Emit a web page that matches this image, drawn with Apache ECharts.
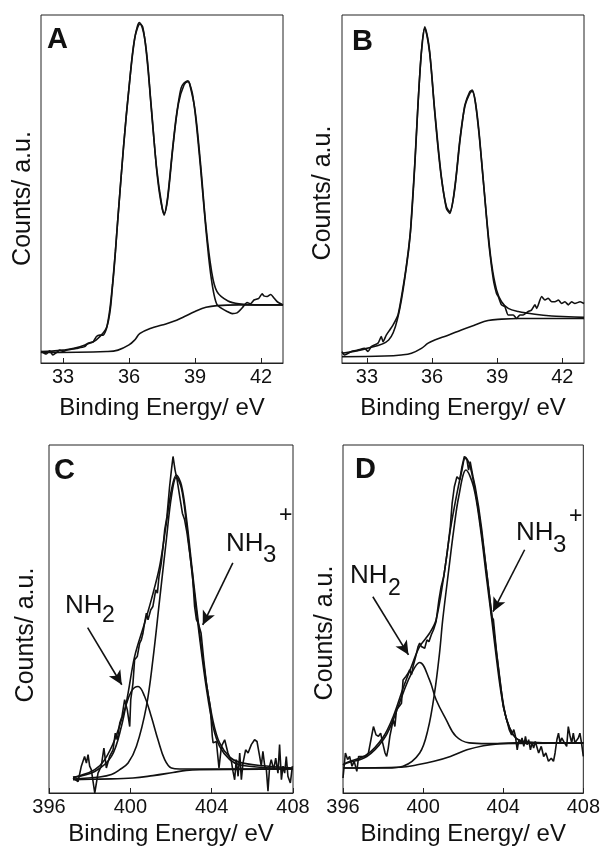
<!DOCTYPE html>
<html>
<head>
<meta charset="utf-8">
<script src="https://cdn.jsdelivr.net/npm/echarts@6/dist/echarts.min.js"></script>
<style>
html,body{margin:0;padding:0;background:#fff;}
#chart{width:603px;height:855px;}
</style>
</head>
<body>
<div id="chart"></div>
<script>
// ---------- Panel A ----------
const aRawX = [32.00,32.24,32.39,32.54,32.70,32.85,33.00,33.15,33.61,33.99,34.14,34.37,34.52,34.67,34.83,34.98,35.13,35.25,35.38,35.50,35.63,35.75,35.88,36.00,36.13,36.26,36.37,36.47,36.62,36.74,36.87,37.00,37.13,37.25,37.38,37.51,37.60,37.75,37.87,37.99,38.12,38.25,38.37,38.49,38.68,38.75,38.88,39.00,39.12,39.24,39.37,39.50,39.62,39.74,39.87,40.00,40.23,40.46,40.69,40.91,41.14,41.37,41.52,41.68,41.90,42.05,42.13,42.28,42.44,42.60,42.74,43.00];
const aRawY = [3.3,2.6,3.5,2.3,3.0,3.7,3.3,3.7,4.2,4.7,5.7,6.1,7.6,8.0,8.0,10.0,15.5,22.5,32.0,42.0,52.5,62.0,71.5,79.2,87.0,93.3,96.5,97.8,96.6,91.9,84.0,74.1,64.5,55.9,49.0,44.4,42.5,47.3,54.5,62.2,69.5,75.1,79.0,80.4,81.1,80.4,77.5,72.2,65.0,56.9,47.5,38.2,30.5,24.3,19.5,16.8,15.6,14.8,14.2,14.4,15.8,17.4,17.0,18.1,18.6,19.9,19.3,19.1,19.7,18.6,17.6,16.7];
const aFitX = [32.00,32.50,33.00,33.50,34.00,34.50,35.00,35.25,35.50,35.75,36.00,36.25,36.50,36.75,37.00,37.25,37.50,37.60,37.75,38.00,38.25,38.50,38.68,38.75,39.00,39.25,39.50,39.75,40.00,40.50,41.00,42.00,43.00];
const aFitY = [3.3,3.4,3.7,4.2,5.2,6.6,10.5,22.0,42.0,62.0,79.0,93.0,97.4,91.8,74.6,56.4,44.9,43.0,46.8,62.2,74.6,79.9,80.8,80.3,72.7,57.4,39.2,26.5,20.5,17.8,17.0,16.7,16.7];
const aBgX = [32.00,35.00,35.50,36.00,36.26,36.50,37.00,37.50,38.00,38.50,39.00,39.50,40.00,41.00,43.00];
const aBgY = [3.0,3.3,3.7,5.2,6.6,8.5,10.0,10.9,11.9,13.3,14.8,16.0,16.5,16.7,16.7];

// ---------- Panel B ----------
const bRawX = [31.85,31.97,32.28,32.58,32.89,33.05,33.20,33.51,33.66,33.74,33.89,34.05,34.20,34.43,34.63,34.82,35.00,35.10,35.20,35.33,35.46,35.56,35.66,35.78,35.89,36.00,36.12,36.27,36.43,36.66,36.82,36.93,37.05,37.17,37.28,37.40,37.51,37.74,37.85,37.95,38.05,38.17,38.28,38.40,38.51,38.62,38.74,38.85,38.97,39.05,39.20,39.35,39.51,39.74,39.89,40.05,40.20,40.43,40.58,40.74,40.82,41.05,41.20,41.35,41.51,41.66,41.82,41.97,42.12,42.28,42.43,42.58,42.82,43.00];
const bRawY = [3.3,2.3,3.3,3.7,4.2,3.3,4.7,5.7,7.6,6.1,8.0,9.5,10.9,13.8,20.5,28.2,37.7,47.0,56.9,72.0,85.6,92.5,96.6,94.0,89.5,81.5,72.2,62.0,53.1,44.4,43.0,45.5,50.2,57.0,63.6,69.5,74.1,78.0,78.4,76.5,72.2,65.5,57.9,49.5,41.6,34.0,27.7,23.0,20.0,19.1,16.7,16.2,13.8,13.8,12.8,13.8,13.8,14.8,15.2,16.7,15.7,19.1,18.1,18.6,17.6,17.6,18.1,17.1,17.6,16.7,17.6,17.1,17.6,17.1];
const bFitX = [31.85,33.00,34.00,34.43,34.82,35.00,35.20,35.46,35.66,35.89,36.12,36.43,36.66,36.82,37.05,37.28,37.51,37.74,37.85,38.05,38.28,38.51,38.74,38.97,39.20,39.51,39.97,40.74,41.51,42.28,43.00];
const bFitY = [2.8,4.2,6.6,13.3,27.7,37.3,56.4,85.2,96.2,89.0,72.7,53.5,44.9,43.5,50.7,64.1,73.7,77.5,78.0,72.7,58.3,42.0,28.6,21.0,17.6,15.7,14.8,14.0,13.5,13.3,13.1];
const bBgX = [31.85,33.82,34.58,35.05,35.51,35.82,36.12,36.74,37.35,37.97,38.58,39.20,39.97,43.00];
const bBgY = [1.8,2.0,2.3,2.8,4.2,5.7,6.6,8.0,9.5,10.9,12.2,12.6,12.8,12.8];

// ---------- Panel C ----------
const cRawX = [397.18,397.43,397.59,397.75,397.84,397.92,398.00,398.08,398.25,398.41,398.57,398.70,398.82,398.98,399.15,399.26,399.36,399.48,399.59,399.72,399.85,399.97,400.02,400.13,400.21,400.34,400.46,400.54,400.62,400.70,400.79,400.87,401.00,401.11,401.25,401.33,401.41,401.52,401.61,401.69,401.80,401.93,402.02,402.10,402.20,402.30,402.43,402.56,402.67,402.79,402.92,403.05,403.16,403.25,403.34,403.48,403.61,403.74,403.84,403.93,404.03,404.07,404.23,404.36,404.48,404.64,404.80,404.97,405.05,405.13,405.21,405.30,405.38,405.46,405.54,405.67,405.79,405.95,406.11,406.23,406.36,406.44,406.52,406.61,406.69,406.77,406.85,406.93,407.05,407.15,407.26,407.34,407.43,407.51,407.59,407.67,407.75,407.87,407.97];
const cRawY = [4.3,3.3,7.7,10.5,8.6,11.0,7.7,6.7,0.0,5.7,7.7,12.9,7.2,10.5,12.4,17.2,15.3,20.1,22.0,26.8,23.9,19.1,26.8,31.6,38.3,39.2,43.1,44.0,45.9,48.8,51.7,49.8,52.6,53.6,58.4,57.4,62.2,66.0,70.8,75.6,79.4,88.0,92.8,96.7,92.8,90.0,85.2,80.4,78.5,74.6,68.9,63.2,53.6,49.8,48.8,45.9,38.3,31.6,27.8,24.9,16.3,14.4,14.8,7.2,13.4,15.3,11.5,9.1,6.2,3.8,9.6,4.8,11.5,3.8,8.6,12.4,11.5,13.9,15.3,14.8,10.5,7.7,12.0,7.7,6.7,0.5,7.7,9.6,6.7,10.0,5.7,13.9,3.8,7.7,5.7,10.5,4.8,2.9,7.7];
const cFitX = [397.18,398.25,399.07,399.56,399.89,400.21,400.70,401.03,401.44,401.77,402.02,402.26,402.51,402.75,403.08,403.41,403.74,404.07,404.39,404.89,405.38,406.36,408.00];
const cFitY = [4.5,6.2,10.5,19.1,28.7,39.2,48.8,55.5,65.1,77.5,87.1,91.4,88.5,79.4,62.2,45.9,31.6,20.6,14.4,10.3,8.8,7.9,7.2];
const cNh2X = [397.18,397.43,398.25,398.74,399.23,399.72,400.05,400.38,400.70,401.03,401.36,401.69,402.02,402.43,408.00];
const cNh2Y = [4.5,4.8,6.7,9.6,15.3,23.9,29.2,30.6,27.8,22.0,15.3,9.6,7.2,6.9,6.9];
const cNh3X = [397.18,398.49,399.07,399.48,399.89,400.30,400.79,401.11,401.44,401.77,402.02,402.26,402.51,402.75,403.08,403.41,403.74,404.07,404.39,404.89,405.38,406.36,408.00];
const cNh3Y = [4.0,4.6,5.3,6.7,8.6,13.4,24.9,38.3,55.5,72.7,85.2,90.7,87.6,78.0,60.8,44.5,30.1,19.1,13.4,9.6,8.1,7.4,7.0];
const cBgX = [397.18,398.49,400.13,401.11,402.10,402.75,403.41,408.00];
const cBgY = [3.8,4.0,4.3,5.0,5.9,6.5,6.7,6.9];

// ---------- Panel D ----------
const dRawX = [396.00,396.12,396.23,396.33,396.45,396.56,396.69,396.78,396.94,397.11,397.27,397.52,397.65,397.77,397.88,397.98,398.10,398.18,398.26,398.34,398.51,398.59,398.67,398.81,398.92,399.00,399.14,399.25,399.33,399.42,399.50,399.63,399.75,399.83,399.91,399.99,400.08,400.19,400.29,400.41,400.52,400.65,400.79,400.90,401.03,401.20,401.36,401.45,401.56,401.69,401.83,401.94,402.06,402.19,402.27,402.35,402.49,402.60,402.77,402.93,403.10,403.26,403.43,403.51,403.67,403.84,404.00,404.17,404.30,404.42,404.53,404.61,404.70,404.78,404.86,404.94,405.03,405.11,405.19,405.27,405.36,405.44,405.52,405.60,405.77,405.90,406.02,406.13,406.26,406.40,406.51,406.59,406.68,406.76,406.84,406.92,407.06,407.17,407.25,407.34,407.42,407.50,407.58,407.75,407.83,407.91,408.00];
const dRawY = [4.3,11.5,9.6,10.5,7.7,9.1,6.2,10.5,10.5,10.5,11.5,19.1,16.7,16.3,17.2,14.4,11.5,10.5,12.9,16.3,21.1,19.1,23.9,24.9,25.8,32.5,33.5,34.4,35.4,34.0,36.4,39.2,42.1,43.1,42.1,42.6,41.6,44.0,43.5,45.5,46.9,49.3,55.5,59.3,62.2,68.9,76.6,83.3,88.0,90.9,90.0,93.8,96.7,95.7,92.8,95.2,90.9,88.0,82.3,75.6,67.0,59.3,50.7,49.8,40.2,32.5,24.9,21.1,18.2,16.7,18.2,16.3,12.4,15.3,14.4,15.8,13.4,16.3,13.9,15.3,12.4,14.4,12.9,14.8,11.5,13.4,10.5,11.5,9.1,10.0,9.1,11.5,15.3,17.2,14.4,15.8,14.4,13.4,19.1,16.3,14.4,17.2,14.4,15.8,17.2,14.4,10.5];
const dFitX = [396.00,396.20,397.19,398.01,398.51,399.00,399.42,399.83,400.32,400.65,401.03,401.36,401.69,401.94,402.11,402.35,402.68,403.01,403.34,403.67,403.92,404.17,404.50,404.83,405.49,408.00];
const dFitY = [8.1,8.8,11.0,16.1,22.0,30.1,36.4,42.1,45.9,49.8,62.2,75.6,86.1,92.8,96.5,93.8,84.2,70.8,55.5,40.2,28.7,21.1,16.7,15.1,14.5,14.4];
const dNh2X = [396.00,396.20,397.19,398.01,398.51,399.00,399.42,399.83,400.32,400.65,401.15,401.64,402.30,403.18,408.00];
const dNh2Y = [8.1,8.6,10.5,15.3,21.1,28.7,34.4,37.5,32.5,26.8,21.1,16.3,14.4,14.2,14.4];
const dNh3X = [396.00,398.18,399.00,399.83,400.24,400.57,400.82,400.98,401.28,401.53,401.78,402.14,402.52,402.85,403.18,403.43,403.67,403.92,404.17,404.50,404.83,405.49,408.00];
const dNh3Y = [7.2,7.2,7.7,11.5,18.2,28.7,40.2,49.8,64.1,75.6,85.2,92.8,88.0,76.6,61.2,49.8,38.3,27.8,21.1,16.7,15.1,14.5,14.4];
const dBgX = [396.00,398.89,399.71,400.54,401.36,402.19,403.01,403.84,404.66,408.00];
const dBgY = [7.2,7.4,8.1,9.1,10.5,12.4,13.6,14.2,14.4,14.4];

// ---------- Axes / text ----------
const ticksSn = [33, 36, 39, 42];
const ticksN = [396, 400, 404, 408];
const xName = 'Binding Energy/ eV';
const yName = 'Counts/ a.u.';
const panelLetters = ['A', 'B', 'C', 'D'];
// arrows [fromX, fromY, toX, toY] in data units
const cArrowNh2 = [397.90, 47.5, 399.58, 31.1];
const cArrowNh3 = [405.04, 66.1, 403.56, 48.3];
const dArrowNh2 = [397.49, 56.4, 399.27, 39.7];
const dArrowNh3 = [405.07, 69.9, 403.49, 52.1];

const FONT = '"Liberation Sans", Arial, Helvetica, sans-serif';
const INK = '#111';

function zip(xs, ys) {
  const n = Math.min(xs.length, ys.length);
  const out = [];
  for (let i = 0; i < n; i++) out.push([xs[i], ys[i]]);
  return out;
}

const grids = [
  {left: 41, top: 15, width: 242, height: 348},
  {left: 342, top: 15, width: 242, height: 348},
  {left: 49, top: 445, width: 244, height: 348},
  {left: 343, top: 445, width: 242, height: 348}
].map(g => Object.assign({show: true, borderColor: '#222', borderWidth: 1, containLabel: false}, g));

const xRanges = [[32, 43], [31.85, 43], [396, 408], [396, 408]];
const xTicks = [ticksSn, ticksSn, ticksN, ticksN];
const xGaps = [33, 33, 29, 29];
const yGaps = [5, 6, 10, 5];
const yPads = [[0, 19, 0, 0], [0, 8, 0, 0], [0, 32, 0, 0], [0, 28, 0, 0]];

const xAxes = xRanges.map((r, i) => ({
  gridIndex: i, type: 'value', min: r[0], max: r[1],
  axisLine: {show: true, lineStyle: {color: '#222', width: 1}},
  axisTick: {show: true, inside: true, length: 5, customValues: xTicks[i], lineStyle: {color: '#222'}},
  axisLabel: {show: true, customValues: xTicks[i], fontSize: 20, fontFamily: FONT, color: INK, margin: 4, hideOverlap: false},
  splitLine: {show: false},
  name: xName, nameLocation: 'middle', nameGap: xGaps[i],
  nameTextStyle: {fontSize: 24, fontFamily: FONT, color: INK}
}));

const yAxes = [0, 1, 2, 3].map(i => ({
  gridIndex: i, type: 'value', min: 0, max: 100,
  axisLine: {show: false}, axisTick: {show: false}, axisLabel: {show: false}, splitLine: {show: false},
  name: yName, nameLocation: 'middle', nameGap: yGaps[i],
  nameTextStyle: {fontSize: 25, fontFamily: FONT, color: INK, padding: yPads[i]}
}));

function line(i, xs, ys, smooth, extra) {
  return Object.assign({
    type: 'line', xAxisIndex: i, yAxisIndex: i, data: zip(xs, ys),
    showSymbol: false, symbol: 'none', smooth: smooth, silent: true,
    lineStyle: {color: INK, width: 1.6}, animation: false
  }, extra || {});
}

function arrows(list) {
  return {
    silent: true, symbol: ['none', 'arrow'], symbolSize: [10, 14],
    lineStyle: {color: INK, width: 1.6, type: 'solid'},
    itemStyle: {color: INK},
    label: {show: false}, animation: false,
    data: list.map(a => [{coord: [a[0], a[1]]}, {coord: [a[2], a[3]]}])
  };
}

const series = [
  line(0, aBgX, aBgY, 0.4), line(0, aFitX, aFitY, 0.35), line(0, aRawX, aRawY, 0.2),
  line(1, bBgX, bBgY, 0.4), line(1, bFitX, bFitY, 0.35), line(1, bRawX, bRawY, 0.2),
  line(2, cBgX, cBgY, 0.4), line(2, cNh2X, cNh2Y, 0.4), line(2, cNh3X, cNh3Y, 0.35),
  line(2, cFitX, cFitY, 0.35, {markLine: arrows([cArrowNh2, cArrowNh3])}), line(2, cRawX, cRawY, false),
  line(3, dBgX, dBgY, 0.4), line(3, dNh2X, dNh2Y, 0.4), line(3, dNh3X, dNh3Y, 0.35),
  line(3, dFitX, dFitY, 0.35, {markLine: arrows([dArrowNh2, dArrowNh3])}), line(3, dRawX, dRawY, false)
];

function txt(s, x, y, size, bold) {
  return {type: 'text', x: x, y: y, silent: true, style: {
    text: s, font: (bold ? 'bold ' : '') + size + 'px ' + FONT, fill: INK,
    textAlign: 'left', align: 'left', textVerticalAlign: 'middle', verticalAlign: 'middle'
  }};
}

const graphic = [
  txt(panelLetters[0], 47, 40, 29, true),
  txt(panelLetters[1], 352, 42, 29, true),
  txt(panelLetters[2], 54, 471, 29, true),
  txt(panelLetters[3], 355, 470, 29, true),
  txt('NH', 65, 606, 26), txt('2', 102, 616, 23),
  txt('NH', 226, 544, 26), txt('3', 263, 555, 24), txt('+', 279, 516, 23),
  txt('NH', 350, 576, 26), txt('2', 388, 589, 23),
  txt('NH', 516, 533, 26), txt('3', 553, 545, 24), txt('+', 569, 517, 23)
];

const chart = echarts.init(document.getElementById('chart'), null, {renderer: 'canvas'});
chart.setOption({
  backgroundColor: '#fff',
  animation: false,
  grid: grids, xAxis: xAxes, yAxis: yAxes, series: series, graphic: graphic
});
</script>
</body>
</html>
